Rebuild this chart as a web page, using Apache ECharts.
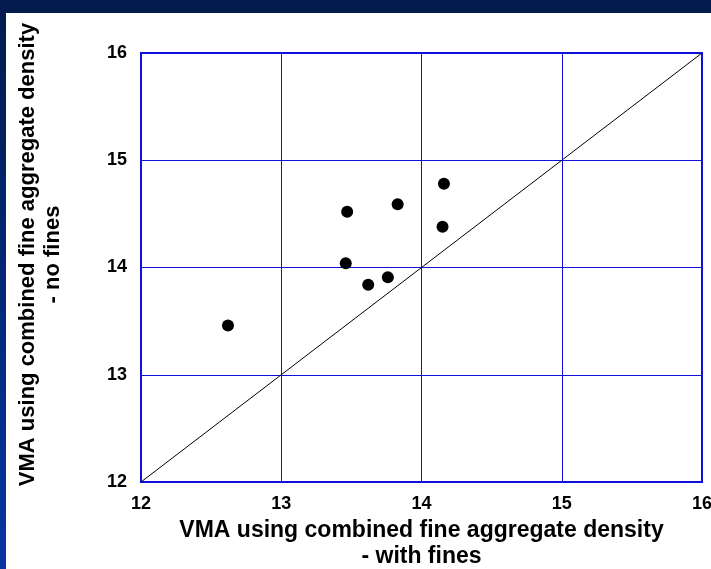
<!DOCTYPE html>
<html>
<head>
<meta charset="utf-8">
<script src="https://cdn.jsdelivr.net/npm/echarts@6/dist/echarts.min.js"></script>
<style>
html,body{margin:0;padding:0;background:#fff;}
#c{width:711px;height:569px;}
</style>
</head>
<body>
<div id="c"></div>
<script>
// Data
const withFines = [12.62, 13.47, 13.83, 14.16, 14.15, 13.46, 13.62, 13.76];
const noFines   = [13.46, 14.52, 14.59, 14.78, 14.38, 14.04, 13.84, 13.91];
const equalityLine = [[12, 12], [16, 16]];
const xTicks = [12, 13, 14, 15, 16];
const yTicks = [12, 13, 14, 15, 16];
const xTitle = 'VMA using combined fine aggregate density\n- with fines';
const yTitle = 'VMA using combined fine aggregate density\n- no fines';

const points = withFines.map((x, i) => [x, noFines[i]]);
const FONT = '"Liberation Sans", Arial, sans-serif';
const BLUE = '#1010dc';

const chart = echarts.init(document.getElementById('c'), null, {renderer: 'canvas'});
chart.setOption({
  animation: false,
  backgroundColor: '#ffffff',
  graphic: [
    {type: 'rect', left: 0, top: 0, z: -10, shape: {width: 711, height: 13}, style: {fill: '#021a4c'}},
    {type: 'rect', left: 0, top: 0, z: -10, shape: {width: 6, height: 569},
     style: {fill: new echarts.graphic.LinearGradient(0, 0, 0, 1, [
       {offset: 0, color: '#021a4c'}, {offset: 1, color: '#0536a3'}])}}
  ],
  grid: {left: 141, top: 53, right: 9, bottom: 87, show: true, borderColor: BLUE, borderWidth: 2,
         backgroundColor: 'transparent', containLabel: false, outerBoundsMode: 'none'},
  xAxis: {
    type: 'value', min: xTicks[0], max: xTicks[xTicks.length - 1], interval: 1,
    axisLine: {show: true, lineStyle: {color: BLUE, width: 2}},
    axisTick: {show: false},
    splitLine: {show: true, lineStyle: {color: BLUE, width: 1}},
    axisLabel: {color: '#000', fontFamily: FONT, fontWeight: 'bold', fontSize: 18, margin: 13,
                showMinLabel: true, showMaxLabel: true},
    name: xTitle, nameLocation: 'middle', nameGap: 34,
    nameTextStyle: {color: '#000', fontFamily: FONT, fontWeight: 'bold', fontSize: 23, lineHeight: 26}
  },
  yAxis: {
    type: 'value', min: yTicks[0], max: yTicks[yTicks.length - 1], interval: 1,
    axisLine: {show: true, lineStyle: {color: BLUE, width: 2}},
    axisTick: {show: false},
    splitLine: {show: true, lineStyle: {color: BLUE, width: 1}},
    axisLabel: {color: '#000', fontFamily: FONT, fontWeight: 'bold', fontSize: 18, margin: 14,
                showMinLabel: true, showMaxLabel: true},
    name: yTitle, nameLocation: 'middle', nameGap: 76,
    nameTextStyle: {color: '#000', fontFamily: FONT, fontWeight: 'bold', fontSize: 22, lineHeight: 25,
                    padding: [0, 0, 0, 26]}
  },
  series: [
    {type: 'line', data: equalityLine, symbol: 'none', silent: true,
     lineStyle: {color: '#000', width: 1}, z: 2},
    {type: 'scatter', data: points, symbol: 'circle', symbolSize: 12,
     itemStyle: {color: '#000', opacity: 1}, z: 3}
  ]
});
</script>
</body>
</html>
